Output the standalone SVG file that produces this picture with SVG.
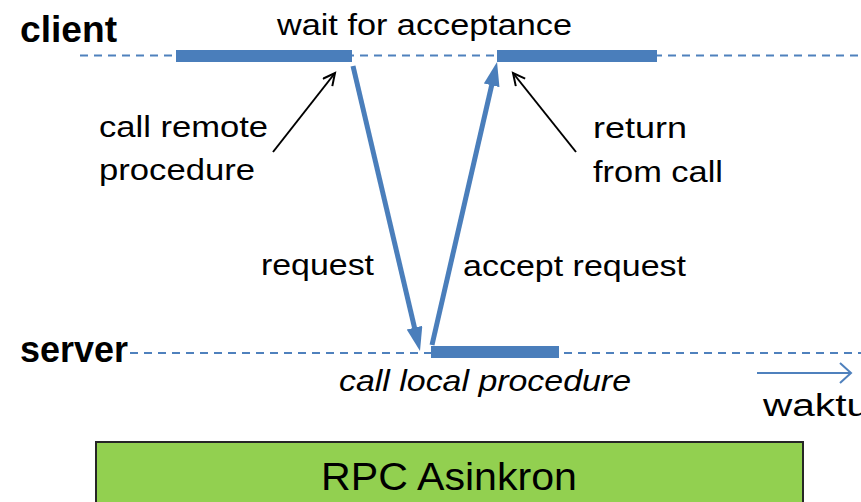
<svg xmlns="http://www.w3.org/2000/svg" width="861" height="502" viewBox="0 0 861 502">
  <style>
    text { font-family: "Liberation Sans", Arial, sans-serif; fill: #000; }
    .lane { font-weight: bold; font-size: 37px; }
    .lbl { font-size: 30px; }
    .ital { font-size: 30px; font-style: italic; }
    .timeline { stroke: #4f81bd; stroke-width: 1.8; stroke-dasharray: 8 6; fill: none; }
    .bar { fill: #4a7ebb; }
    .msg { stroke: #4a7ebb; stroke-width: 5; fill: none; }
    .pointer { stroke: #000; stroke-width: 2; fill: none; }
  </style>
  <defs>
    <marker id="headBlue" markerUnits="userSpaceOnUse" markerWidth="26" markerHeight="18" refX="10" refY="8" orient="auto">
      <path d="M0,0 L24,8 L0,16 z" fill="#4a7ebb"/>
    </marker>
    <marker id="headOpen" markerUnits="userSpaceOnUse" markerWidth="16" markerHeight="16" refX="13" refY="7" orient="auto">
      <path d="M1,1 L13,7 L1,13" fill="none" stroke="#000" stroke-width="2"/>
    </marker>
    <marker id="headTime" markerUnits="userSpaceOnUse" markerWidth="14" markerHeight="24" refX="12" refY="11" orient="auto">
      <path d="M1,1 L12,11 L1,21" fill="none" stroke="#4f81bd" stroke-width="2"/>
    </marker>
  </defs>

  <!-- client lifeline -->
  <g id="client">
    <text class="lane" x="20" y="42" textLength="97" lengthAdjust="spacingAndGlyphs">client</text>
    <line class="timeline" x1="80" y1="55.5" x2="861" y2="55.5"/>
    <rect class="bar" x="176" y="50" width="176" height="12"/>
    <rect class="bar" x="497" y="50" width="160" height="12"/>
    <text class="lbl" x="277" y="35" textLength="295" lengthAdjust="spacingAndGlyphs">wait for acceptance</text>
  </g>

  <!-- server lifeline -->
  <g id="server">
    <text class="lane" x="20" y="362" textLength="108" lengthAdjust="spacingAndGlyphs">server</text>
    <line class="timeline" x1="130" y1="353" x2="861" y2="353"/>
    <rect class="bar" x="431" y="346" width="128" height="12"/>
    <text class="ital" x="339" y="391" textLength="292" lengthAdjust="spacingAndGlyphs">call local procedure</text>
  </g>

  <!-- annotations -->
  <g id="call-remote">
    <text class="lbl" x="99" y="137" textLength="169" lengthAdjust="spacingAndGlyphs">call remote</text>
    <text class="lbl" x="99" y="180" textLength="156" lengthAdjust="spacingAndGlyphs">procedure</text>
  </g>
  <g id="return-call">
    <text class="lbl" x="593" y="138" textLength="94" lengthAdjust="spacingAndGlyphs">return</text>
    <text class="lbl" x="593" y="182" textLength="130" lengthAdjust="spacingAndGlyphs">from call</text>
  </g>
  <g id="request-label">
    <text class="lbl" x="261" y="275" textLength="113" lengthAdjust="spacingAndGlyphs">request</text>
  </g>
  <g id="accept-label">
    <text class="lbl" x="463" y="276" textLength="223" lengthAdjust="spacingAndGlyphs">accept request</text>
  </g>

  <!-- time axis -->
  <g id="time">
    <line x1="757" y1="373" x2="851" y2="373" stroke="#4f81bd" stroke-width="2" marker-end="url(#headTime)"/>
    <text x="763" y="416" style="font-size:31px" textLength="106" lengthAdjust="spacingAndGlyphs">waktu</text>
  </g>

  <!-- caption box -->
  <g id="caption">
    <rect x="96" y="442" width="707" height="70" fill="#92d050" stroke="#262626" stroke-width="2"/>
    <text x="321" y="490" style="font-size:39px" textLength="256" lengthAdjust="spacingAndGlyphs">RPC Asinkron</text>
  </g>

  <!-- connectors -->
  <g id="connectors">
    <line class="msg" x1="353" y1="66" x2="416.8" y2="337.4" marker-end="url(#headBlue)"/>
    <line class="msg" x1="432" y1="345" x2="493.9" y2="75.6" marker-end="url(#headBlue)"/>
    <line class="pointer" x1="273" y1="152" x2="335" y2="73" marker-end="url(#headOpen)"/>
    <line class="pointer" x1="576" y1="152" x2="513" y2="73" marker-end="url(#headOpen)"/>
  </g>
</svg>
